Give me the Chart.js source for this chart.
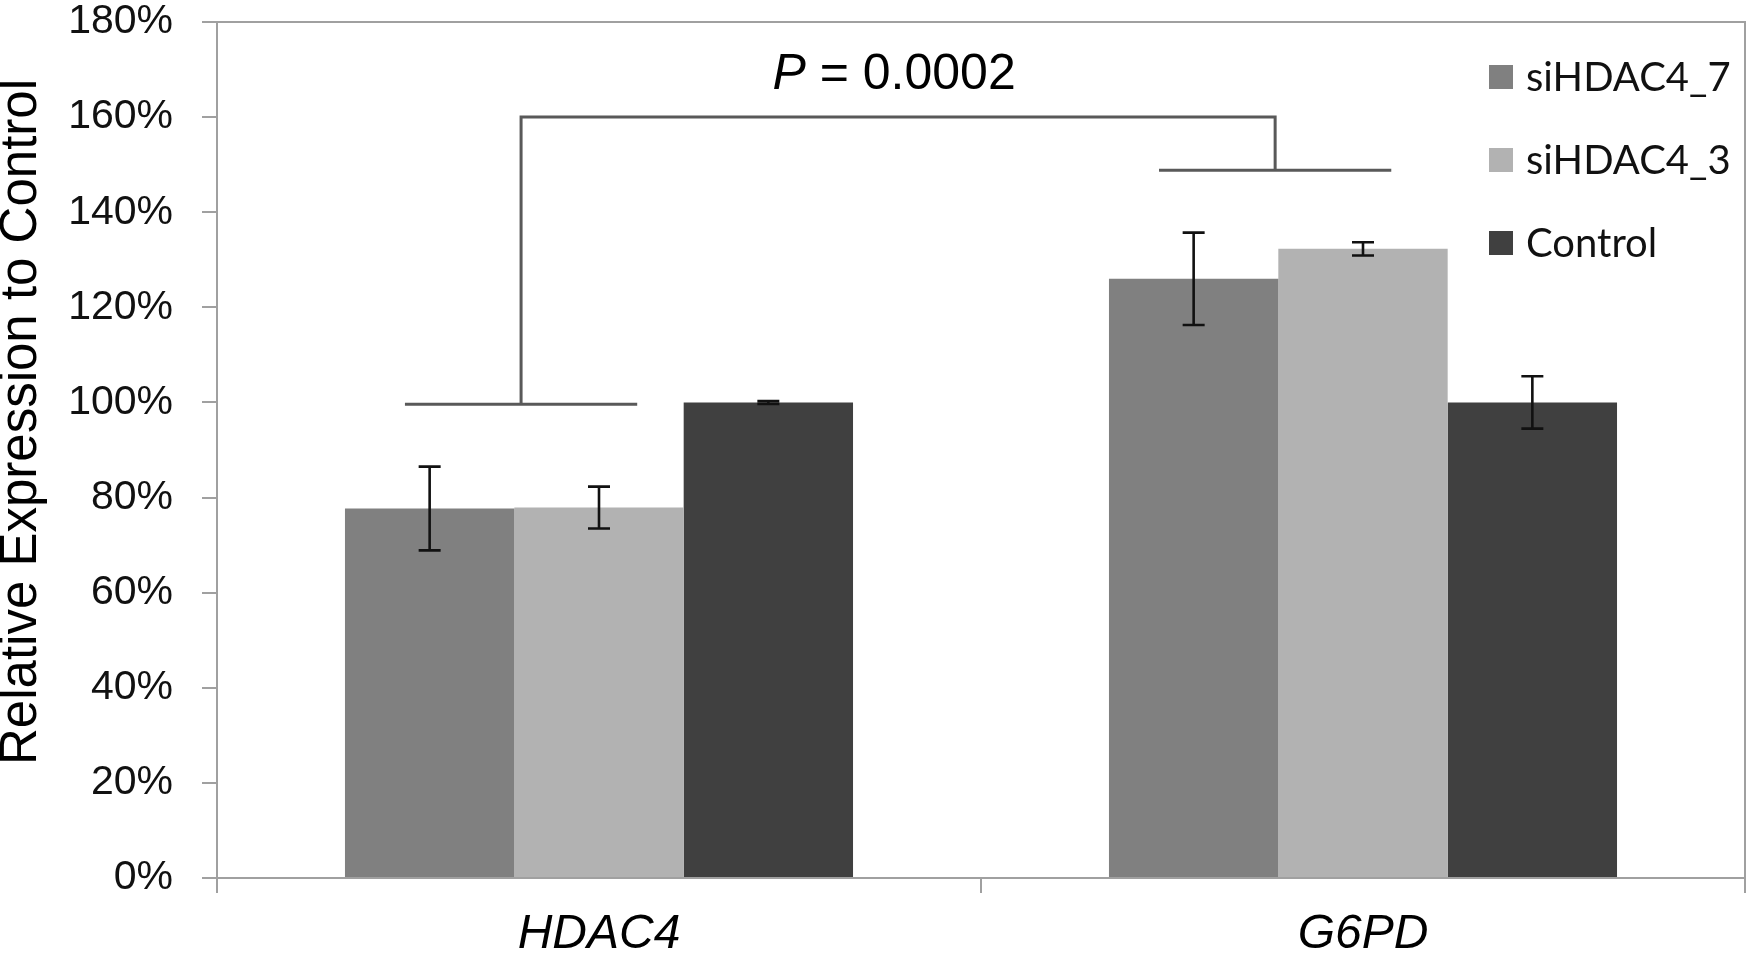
<!DOCTYPE html>
<html>
<head>
<meta charset="utf-8">
<script src="https://cdn.jsdelivr.net/npm/chart.js@4/dist/chart.umd.min.js"></script>
<style>
  html, body { margin: 0; padding: 0; background: #ffffff; }
  #wrap { width: 1752px; height: 959px; }
</style>
</head>
<body>
<div id="wrap"><canvas id="c" width="1752" height="959"></canvas></div>
<script>
// ---- data ----
const categories = ['HDAC4', 'G6PD'];
const seriesNames = ['siHDAC4_7', 'siHDAC4_3', 'Control'];
const siHDAC4_7 = [77.7, 126.0];
const siHDAC4_3 = [77.9, 132.3];
const control = [100.0, 100.0];
const siHDAC4_7Err = [8.8, 9.7];
const siHDAC4_3Err = [4.4, 1.4];
const controlErr = [0.3, 5.5];
const yTicks = [0, 20, 40, 60, 80, 100, 120, 140, 160, 180];
const bracketLevels = [99.6, 148.8];
const bracketTop = 160;
const pSymbol = 'P';
const pText = ' = 0.0002';
const yTitle = 'Relative Expression to Control';

const seriesColors = ['#808080', '#b2b2b2', '#404040'];
const errors = [siHDAC4_7Err, siHDAC4_3Err, controlErr];

const bgPlugin = {
  id: 'bg',
  beforeDraw(chart) {
    const ctx = chart.ctx;
    ctx.save();
    ctx.fillStyle = '#ffffff';
    ctx.fillRect(0, 0, chart.width, chart.height);
    ctx.restore();
  }
};

const framePlugin = {
  id: 'frame',
  beforeDatasetsDraw(chart) {
    const a = chart.chartArea, ctx = chart.ctx;
    ctx.save();
    ctx.strokeStyle = '#a0a0a0';
    ctx.lineWidth = 2;
    ctx.beginPath();
    ctx.moveTo(a.left, a.top);
    ctx.lineTo(a.right, a.top);
    ctx.lineTo(a.right, a.bottom);
    ctx.stroke();
    ctx.restore();
  }
};

const yTitlePlugin = {
  id: 'yTitle',
  afterDraw(chart) {
    const ctx = chart.ctx;
    ctx.save();
    ctx.translate(22, 422);
    ctx.rotate(-Math.PI / 2);
    ctx.font = '51px "Liberation Sans", Arial, sans-serif';
    ctx.fillStyle = '#000000';
    ctx.textAlign = 'center';
    ctx.textBaseline = 'middle';
    ctx.fillText(yTitle, 0, 0);
    ctx.restore();
  }
};

const errorPlugin = {
  id: 'errbars',
  afterDatasetsDraw(chart) {
    const ctx = chart.ctx, y = chart.scales.y;
    ctx.save();
    ctx.strokeStyle = '#111111';
    ctx.lineWidth = 2.6;
    chart.data.datasets.forEach((ds, i) => {
      const meta = chart.getDatasetMeta(i);
      meta.data.forEach((bar, j) => {
        const v = ds.data[j], e = errors[i][j];
        const yt = y.getPixelForValue(v + e), yb = y.getPixelForValue(v - e);
        const x = bar.x, cap = 11;
        ctx.beginPath();
        ctx.moveTo(x, yt); ctx.lineTo(x, yb);
        ctx.moveTo(x - cap, yt); ctx.lineTo(x + cap, yt);
        ctx.moveTo(x - cap, yb); ctx.lineTo(x + cap, yb);
        ctx.stroke();
      });
    });
    ctx.restore();
  }
};

const bracketPlugin = {
  id: 'bracket',
  afterDatasetsDraw(chart) {
    const ctx = chart.ctx, xs = chart.scales.x, y = chart.scales.y;
    const catW = xs.width / categories.length;
    const offsets = [-0.102, -0.115];
    const halfW = 0.152;
    const stems = [];
    ctx.save();
    ctx.strokeStyle = '#595959';
    ctx.lineWidth = 3;
    ctx.lineCap = 'butt';
    bracketLevels.forEach((lv, j) => {
      const cx = xs.getPixelForValue(j) + offsets[j] * catW;
      const py = y.getPixelForValue(lv);
      stems.push(cx);
      ctx.beginPath();
      ctx.moveTo(cx - halfW * catW, py);
      ctx.lineTo(cx + halfW * catW, py);
      ctx.stroke();
    });
    const ty = y.getPixelForValue(bracketTop);
    ctx.beginPath();
    ctx.moveTo(stems[0], y.getPixelForValue(bracketLevels[0]));
    ctx.lineTo(stems[0], ty);
    ctx.lineTo(stems[1], ty);
    ctx.lineTo(stems[1], y.getPixelForValue(bracketLevels[1]));
    ctx.stroke();
    // P value label
    const midX = (stems[0] + stems[1]) / 2 - 4;
    const baseY = ty - 28;
    const f1 = 'italic 50px "Liberation Sans", Arial, sans-serif';
    const f2 = '50px "Liberation Sans", Arial, sans-serif';
    ctx.font = f1; const w1 = ctx.measureText(pSymbol).width;
    ctx.font = f2; const w2 = ctx.measureText(pText).width;
    let x0 = midX - (w1 + w2) / 2;
    ctx.fillStyle = '#000000';
    ctx.textBaseline = 'alphabetic';
    ctx.textAlign = 'left';
    ctx.font = f1; ctx.fillText(pSymbol, x0, baseY);
    ctx.font = f2; ctx.fillText(pText, x0 + w1, baseY);
    ctx.restore();
  }
};

const legendPlugin = {
  id: 'customLegend',
  afterDraw(chart) {
    const ctx = chart.ctx;
    const sqX = 1489, sqSize = 24, textX = 1526, rowY0 = 77, rowGap = 83;
    ctx.save();
    ctx.font = '40px Lato, "Open Sans", sans-serif';
    ctx.textBaseline = 'middle';
    ctx.textAlign = 'left';
    chart.data.datasets.forEach((ds, i) => {
      const cy = rowY0 + i * rowGap;
      ctx.fillStyle = ds.backgroundColor;
      ctx.fillRect(sqX, cy - sqSize / 2, sqSize, sqSize);
      ctx.fillStyle = '#111111';
      ctx.fillText(ds.label, textX, cy + 1);
    });
    ctx.restore();
  }
};

const datasets = [siHDAC4_7, siHDAC4_3, control].map((d, i) => ({
  label: seriesNames[i],
  data: d,
  backgroundColor: seriesColors[i],
  borderWidth: 0,
  categoryPercentage: 0.665,
  barPercentage: 1.0
}));

new Chart(document.getElementById('c'), {
  type: 'bar',
  data: { labels: categories, datasets },
  options: {
    responsive: false,
    animation: false,
    devicePixelRatio: 1,
    layout: { padding: { top: 22, right: 7, left: 0, bottom: 0 } },
    plugins: {
      legend: { display: false },
      tooltip: { enabled: false },
      title: { display: false }
    },
    scales: {
      x: {
        grid: { display: true, drawOnChartArea: false, drawTicks: true, tickLength: 15, color: '#a0a0a0', lineWidth: 2, offset: true },
        border: { display: true, color: '#a0a0a0', width: 2 },
        ticks: {
          color: '#000000',
          padding: 13,
          font: { family: '"Liberation Sans", Arial, sans-serif', size: 48, style: 'italic' }
        },
        afterFit(s) { s.height = 81; s.paddingLeft = 0; s.paddingRight = 0; }
      },
      y: {
        min: 0,
        max: 180,
        afterBuildTicks(s) { s.ticks = yTicks.map(v => ({ value: v })); },
        grid: { display: true, drawOnChartArea: false, drawTicks: true, tickLength: 15, color: '#a0a0a0', lineWidth: 2 },
        border: { display: true, color: '#a0a0a0', width: 2 },
        ticks: {
          color: '#111111',
          padding: 29,
          font: { family: '"Liberation Sans", Arial, sans-serif', size: 41, lineHeight: 1 },
          callback: v => v + '%'
        },
        title: { display: false },
        afterFit(s) { s.width = 217; s.paddingTop = 0; s.paddingBottom = 0; }
      }
    }
  },
  plugins: [bgPlugin, framePlugin, errorPlugin, bracketPlugin, legendPlugin, yTitlePlugin]
});
</script>
</body>
</html>
